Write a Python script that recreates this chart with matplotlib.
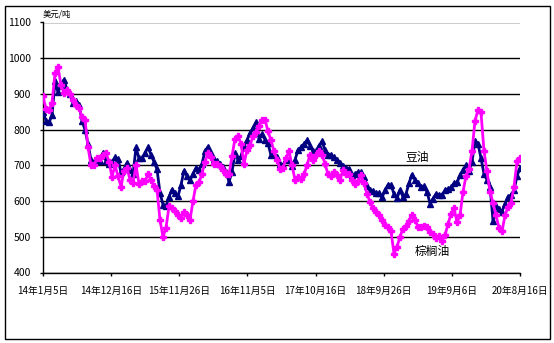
import matplotlib
matplotlib.use("Agg")
import matplotlib.pyplot as plt
from matplotlib.patches import Rectangle
import pandas as pd

plt.rcParams["font.family"] = ["Noto Sans CJK SC", "DejaVu Sans"]

# data: semi-monthly samples, USD/ton
start, end = "2014-01-05", "2020-08-16"
soy = [
    850, 825, 820, 840, 935, 905, 925, 940, 912, 900,
    875, 880, 870, 825, 800, 760, 715, 710, 713, 712,
    735, 712, 705, 710, 722, 718, 680, 690, 707, 688,
    675, 750, 720, 720, 735, 750, 730, 710, 689, 623,
    590, 585, 612, 632, 622, 613, 645, 685, 670, 658,
    677, 692, 688, 705, 740, 752, 735, 717, 712, 705,
    695, 682, 654, 682, 734, 715, 725, 755, 770, 790,
    805, 820, 775, 788, 772, 762, 728, 732, 724, 705,
    700, 717, 715, 698, 715, 743, 750, 760, 770, 755,
    740, 740, 755, 767, 743, 730, 730, 722, 716, 707,
    697, 692, 690, 672, 676, 681, 680, 668, 641, 631,
    627, 622, 622, 610, 630, 645, 645, 620, 608, 631,
    612, 620, 650, 674, 660, 650, 638, 641, 626, 593,
    607, 620, 617, 617, 630, 634, 638, 650, 652, 672,
    688, 700, 685, 710, 768, 760, 720, 676, 660, 640,
    545, 587, 578, 570, 593, 612, 616, 630, 670, 692,
]
palm = [
    893, 858, 856, 875, 958, 975, 925, 902, 910, 900,
    883, 868, 861, 836, 827, 752, 700, 700, 720, 720,
    730, 735, 710, 668, 700, 670, 640, 685, 693, 660,
    650, 700, 648, 655, 655, 675, 660, 642, 632, 547,
    500, 525, 585, 580, 571, 561, 553, 568, 560, 547,
    600, 646, 652, 677, 710, 734, 722, 705, 703, 697,
    688, 675, 675, 725, 775, 783, 760, 705, 743, 757,
    781, 793, 810, 826, 828, 795, 770, 740, 715, 690,
    692, 720, 740, 700, 660, 666, 663, 675, 700, 730,
    715, 730, 740, 730, 705, 675, 670, 680, 672, 658,
    688, 676, 677, 660, 647, 655, 672, 650, 620, 598,
    580, 568, 562, 547, 533, 528, 515, 453, 472, 500,
    523, 530, 545, 562, 547, 528, 526, 531, 527, 513,
    508, 497, 502, 488, 505, 535, 565, 580, 541, 560,
    626, 670, 690, 740, 825, 855, 848, 740, 683, 626,
    595, 560, 525, 515, 560, 584, 595, 640, 711, 720,
]
tick_dates = ["2014-01-05", "2014-12-16", "2015-11-26", "2016-11-05",
              "2017-10-16", "2018-09-26", "2019-09-06", "2020-08-16"]
tick_labels = ["14年1月5日", "14年12月16日", "15年11月26日", "16年11月5日",
               "17年10月16日", "18年9月26日", "19年9月6日", "20年8月16日"]

dates = pd.date_range(start, end, periods=len(soy))

fig = plt.figure(figsize=(5.54, 3.43), dpi=100)
ax = fig.add_axes([43 / 554, 1 - 272.5 / 343, 477 / 554, 250 / 343])

ax.plot(dates, soy, color="#000080", lw=2, marker="^", ms=4,
        mec="#000080", mfc="#000080", zorder=3)
ax.plot(dates, palm, color="#FF00FF", lw=2, marker="P", ms=4,
        mec="#FF00FF", mfc="#FF00FF", zorder=4)

ax.set_xlim(pd.Timestamp(start), pd.Timestamp(end))
ax.set_ylim(400, 1100)
ax.set_yticks(range(400, 1101, 100))
ax.yaxis.grid(True, color="black", lw=1)
ax.set_axisbelow(True)
ax.set_xticks(pd.to_datetime(tick_dates))
ax.set_xticklabels(tick_labels)
ax.tick_params(axis="x", length=2.5, width=1, pad=7, labelsize=7)
ax.tick_params(axis="y", length=2.5, width=1, pad=6, labelsize=7.5)
for s in ["top", "right"]:
    ax.spines[s].set_visible(False)
for s in ["left", "bottom"]:
    ax.spines[s].set_linewidth(1)

ax.text(0.784, 0.462, "豆油", transform=ax.transAxes, ha="center", va="center", fontsize=8.5)
ax.text(0.8155, 0.082, "棕榈油", transform=ax.transAxes, ha="center", va="center", fontsize=8.5)
fig.text(43 / 554, 1 - 14 / 343, "美元/吨", ha="left", va="center", fontsize=6)

fig.patches.append(Rectangle((4.5 / 554, 1 - 338.5 / 343), 545 / 554, 333 / 343,
                             transform=fig.transFigure, fill=False, ec="black", lw=1))

fig.savefig("out.png", dpi=100)
